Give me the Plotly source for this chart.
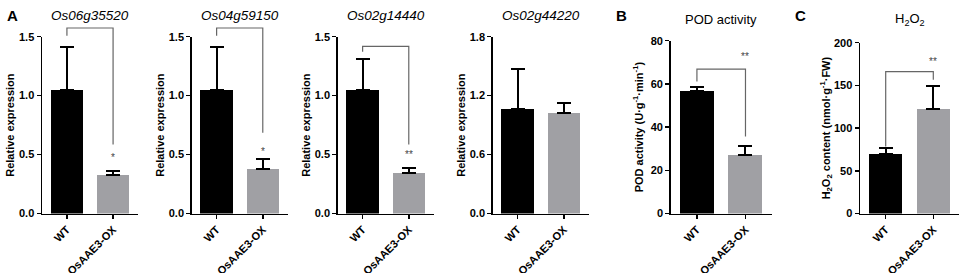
import plotly.graph_objects as go

W, H = 964, 273

genotypes = ["WT", "OsAAE3-OX"]

gene_titles = ["Os06g35520", "Os04g59150", "Os02g14440", "Os02g44220"]
gene_means = [[1.05, 0.33], [1.05, 0.38], [1.05, 0.34], [1.06, 1.02]]
gene_err = [[0.36, 0.03], [0.36, 0.08], [0.26, 0.05], [0.41, 0.10]]
gene_ymax = [1.5, 1.5, 1.5, 1.8]
gene_dtick = [0.5, 0.5, 0.5, 0.6]
gene_stars = ["*", "*", "**", ""]

pod_means = [56.8, 27.2]
pod_err = [1.7, 3.9]

h2o2_means = [69.7, 122.0]
h2o2_err = [7.0, 27.4]

# panel geometry in pixels: (x_left, x_right, y_top)
panels = [
    (42, 138, 36.7),
    (191.7, 287.7, 36.7),
    (337.7, 433.7, 36.7),
    (492.7, 588.7, 36.7),
    (670.7, 771.7, 40.7),
    (860, 959, 42.7),
]
Y0 = 213.5
standoffs = [2, 2, 2, 2, 5, 0]

# bracket specs: (top, left_bottom, right_bottom, star_y) in data units
brackets = [
    (1.574, 1.508, 0.585, 0.475),
    (1.574, 1.508, 0.686, 0.53),
    (1.418, 1.373, 0.585, 0.50),
    None,
    (66.8, 61.1, 35.7, 72.6),
    (166.2, 78.6, 156.5, 178.0),
]

titles = gene_titles + ["POD activity", "H<sub>2</sub>O<sub>2</sub>"]
ytitles = ["Relative expression"] * 4 + [
    "POD activity (U·g<sup>-1</sup>·min<sup>-1</sup>)",
    "H<sub>2</sub>O<sub>2</sub> content (nmol·g<sup>-1</sup>·FW)",
]
means = gene_means + [pod_means, h2o2_means]
errs = gene_err + [pod_err, h2o2_err]
ymaxs = gene_ymax + [80, 200]
dticks = gene_dtick + [20, 50]
stars = gene_stars + ["**", "**"]
fmts = [".1f"] * 4 + ["d", "d"]

FONT = "Liberation Sans, Arial, sans-serif"
BAR_COLORS = ["#000000", "#a0a0a4"]

fig = go.Figure()
layout = dict(
    width=W, height=H,
    margin=dict(l=0, r=0, t=0, b=0, autoexpand=False),
    paper_bgcolor="white", plot_bgcolor="white",
    showlegend=False,
    font=dict(family=FONT, color="#000"),
    bargap=0,
)
annotations = []
shapes = []

for i in range(6):
    xl, xr, yt = panels[i]
    sfx = "" if i == 0 else str(i + 1)
    xa, ya = "x" + sfx, "y" + sfx
    fig.add_trace(go.Bar(
        x=[0, 1], y=means[i], width=0.7,
        marker=dict(color=BAR_COLORS, line=dict(width=0)),
        error_y=dict(type="data", array=errs[i], arrayminus=[0, 0], symmetric=False,
                     color="#000", thickness=2, width=7),
        xaxis=xa, yaxis=ya,
    ))
    layout["xaxis" + sfx] = dict(
        domain=[xl / W, xr / W], anchor=ya, range=[-0.54, 1.54],
        tickvals=[0, 1], ticktext=genotypes, tickangle=-45,
        ticks="outside", ticklen=4, tickwidth=1.5, tickcolor="#000",
        showline=True, linecolor="#000", linewidth=1.5,
        showgrid=False, zeroline=False, fixedrange=True, automargin=False,
        tickfont=dict(size=11, family=FONT, weight="bold"),
    )
    layout["yaxis" + sfx] = dict(
        domain=[(H - Y0) / H, (H - yt) / H], anchor=xa, range=[0, ymaxs[i]],
        dtick=dticks[i], tick0=0, tickformat=fmts[i],
        ticks="outside", ticklen=4, tickwidth=1.5, tickcolor="#000",
        showline=True, linecolor="#000", linewidth=1.5,
        showgrid=False, zeroline=False, fixedrange=True, automargin=False,
        tickfont=dict(size=11, family=FONT, weight="bold"),
        title=dict(text=ytitles[i], standoff=standoffs[i],
                   font=dict(size=11, family=FONT, weight="bold")),
    )
    # panel title
    cx = (xl + xr) / 2 / W
    ty = 15 if i < 4 else 20
    annotations.append(dict(
        text=titles[i], xref="paper", yref="paper", x=cx, y=(H - ty) / H,
        xanchor="center", yanchor="middle", showarrow=False,
        font=dict(size=13.5 if i < 4 else 13, family=FONT,
                  style="italic" if i < 4 else "normal"),
    ))
    b = brackets[i]
    if b:
        top, lb, rb, sy = b
        ym = ymaxs[i]
        dref = ya + " domain"
        bline = dict(color="#666", width=1.2)
        shapes.append(dict(type="path", xref=xa, yref=dref,
                           path=f"M 0 {lb/ym} L 0 {top/ym} L 1 {top/ym} L 1 {rb/ym}",
                           line=bline))
        annotations.append(dict(
            text=stars[i], xref=xa, yref=ya, x=1, y=sy, showarrow=False,
            xanchor="center", yanchor="middle",
            font=dict(size=10, family=FONT, color="#444"),
        ))

for letter, px in [("A", 12), ("B", 621), ("C", 800)]:
    annotations.append(dict(
        text=letter, xref="paper", yref="paper", x=px / W, y=(H - 15) / H,
        xanchor="center", yanchor="middle", showarrow=False,
        font=dict(size=15, family=FONT, weight="bold"),
    ))

layout["annotations"] = annotations
layout["shapes"] = shapes
fig.update_layout(**layout)
fig.write_html(
    "out.html",
    config={"displayModeBar": False, "staticPlot": True},
    post_script="document.body.style.margin='0px';document.body.style.overflow='hidden';",
)
